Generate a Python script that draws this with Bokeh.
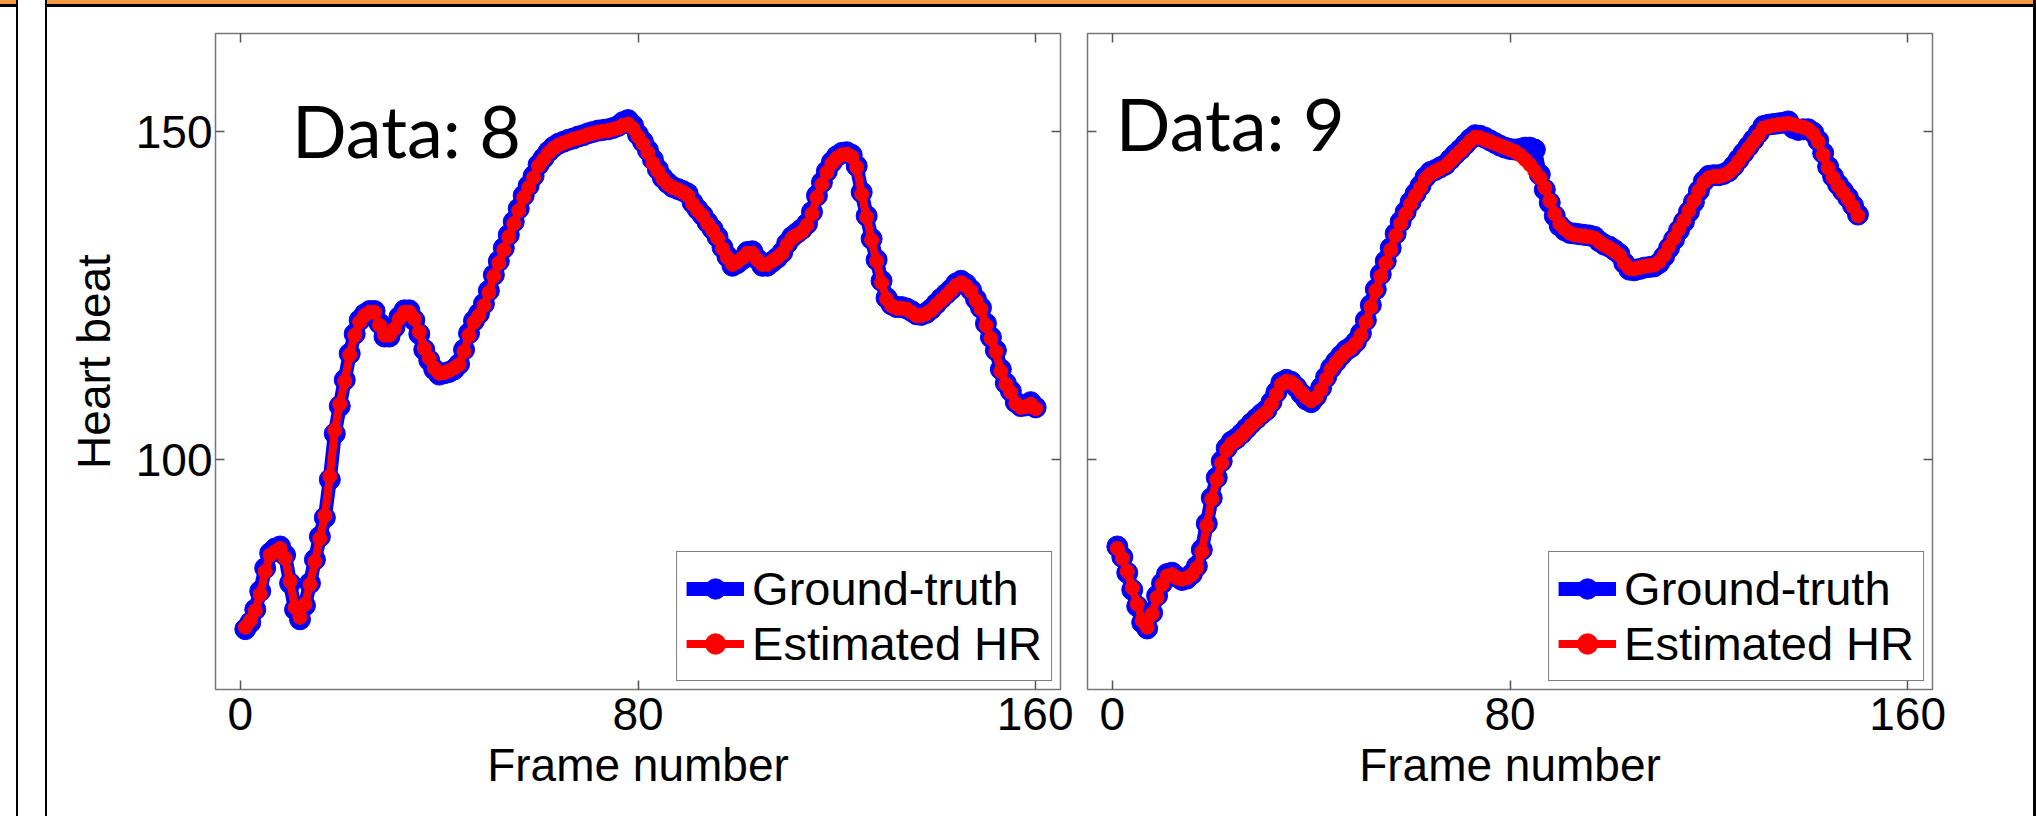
from bokeh.plotting import figure
from bokeh.models import Range1d, LinearAxis, FixedTicker, Label, Div, ColumnDataSource
from bokeh.layouts import row, column
from bokeh.embed import file_html
from bokeh.resources import INLINE

# ---------------- data ----------------
frames_8 = list(range(1, 161))
est_8 = [74.5, 75.5, 77, 79.5, 83, 85.5, 86, 86.5, 85, 81.5,
         77.5, 76, 78, 81, 84.5, 88, 91.5, 97.5, 104.5, 108.5,
         112, 116, 119, 121, 122, 122.5, 122.5, 120.5, 119, 119,
         120, 121.5, 122.5, 122.5, 121.5, 119.5, 117, 115.5, 114, 113.2,
         113.3, 113.6, 114, 114.5, 116.5, 119, 121, 122, 123.5, 125.5,
         128, 130, 132, 134, 136, 138, 140, 141.5, 143, 144.8,
         145.8, 146.8, 147.5, 148, 148.3, 148.6, 148.9, 149.1, 149.3, 149.6,
         149.8, 150, 150.1, 150.2, 150.4, 150.6, 151, 151.2, 150.5, 149.3,
         148.2, 146.8, 145.2, 144, 142.8, 142, 141.5, 141.2, 140.8, 140.3,
         139, 138, 137.2, 136, 135, 133.8, 132.2, 130.8, 129.8, 130.2,
         130.8, 131.5, 131.5, 130.5, 129.8, 129.8, 130.3, 130.8, 131.5, 132.8,
         133.8, 134.3, 134.8, 135.8, 137.5, 140, 142, 143.8, 145.2, 146,
         146.5, 146.6, 146.2, 144.6, 140.5, 137, 133.5, 130.3, 127, 124.5,
         123.5, 123.1, 123.1, 123, 122.5, 122, 122, 122.3, 122.8, 123.6,
         124.3, 125, 125.8, 126.6, 127, 126.5, 125.7, 124.3, 123, 120.5,
         118.5, 116.5, 113.5, 111.5, 110.3, 108.6, 108, 108.1, 108.5, 107.8]
gt_8 = [74.2, 75.2, 77.2, 80, 83.5, 85.8, 86.5, 86.8, 85.5, 81.2,
        77.2, 75.7, 77.8, 81.2, 84.8, 88.3, 91.2, 97, 104, 108.2,
        112.2, 116.2, 119.2, 121.3, 122.2, 122.7, 122.7, 120.8, 118.8, 118.8,
        120.2, 121.8, 122.8, 122.8, 121.3, 119.2, 116.8, 115.2, 113.8, 113,
        113.2, 113.4, 113.8, 114.6, 116.8, 119.3, 121.2, 122.3, 123.8, 125.8,
        128.2, 130.3, 132.3, 134.3, 136.3, 138.3, 140.3, 141.8, 143.3, 145,
        146, 147, 147.7, 148.2, 148.5, 148.8, 149, 149.3, 149.5, 149.8,
        150, 150.2, 150.3, 150.4, 150.6, 150.9, 151.5, 151.8, 151, 149.6,
        148.5, 147.2, 145.8, 144.3, 143, 142.2, 141.6, 141.3, 141, 140.6,
        139.2, 138.2, 137.3, 136.2, 135.2, 134, 132.4, 131, 129.6, 130,
        130.6, 131.7, 131.8, 130.6, 129.6, 129.6, 130.2, 130.8, 131.6, 133,
        134, 134.6, 135.2, 136, 137.8, 140.3, 142.3, 144, 145.4, 146.3,
        146.8, 146.9, 146.5, 144.8, 140.8, 137.2, 133.7, 130.5, 127.3, 124.7,
        123.7, 123.3, 123.3, 123.1, 122.7, 122.2, 122.1, 122.4, 123, 123.8,
        124.6, 125.3, 126, 126.9, 127.3, 126.8, 125.9, 124.5, 123.2, 120.8,
        118.7, 116.7, 113.8, 111.7, 110.5, 108.8, 108.2, 108.3, 108.8, 108]

frames_9 = list(range(1, 151))
est_9 = [86.5, 85, 83, 80.5, 78, 75.5, 74.5, 76.5, 79, 81,
         82.3, 82.5, 82, 81.8, 82, 82.5, 83.5, 86, 90, 94,
         97, 99.5, 101.5, 102.5, 103, 103.7, 104.5, 105.3, 106, 106.7,
         107.3, 108.5, 110, 111.5, 112, 111.8, 111.2, 110.3, 109.5, 109,
         109.5, 110.7, 112.3, 113.8, 114.8, 115.7, 116.5, 117, 117.8, 119,
         121, 123.3, 125.8, 128, 130, 132, 134.2, 136, 137.5, 139,
         140.3, 141.5, 142.8, 143.6, 144, 144.4, 144.8, 145.5, 146.3, 147,
         147.8, 148.6, 149.2, 149.1, 148.8, 148.5, 148.2, 147.9, 147.6, 147.3,
         147, 146.5, 145.8, 145, 144, 143, 141.5, 139.5, 137.5, 136,
         135.2, 134.6, 134.3, 134.2, 134.1, 134, 133.8, 133.2, 132.7, 132.3,
         131.8, 131.2, 130, 129.2, 129.1, 129.3, 129.5, 129.6, 129.7, 130.2,
         131.2, 132.5, 133.8, 135.2, 136.5, 138, 139.5, 141, 142.3, 143,
         143.2, 143.2, 143.4, 143.8, 144.5, 145.5, 146.5, 147.5, 148.5, 149.5,
         150.6, 150.8, 151, 151.1, 151.2, 151.3, 151.1, 150.9, 150.7, 150.4,
         149.7, 148.5, 146.5, 144.5, 143, 141.8, 140.8, 139.8, 138.6, 137.2]
gt_9 = [86.8, 85.2, 82.8, 80.2, 77.7, 75.2, 74.3, 76.7, 79.3, 81.2,
        82.6, 82.8, 82.2, 81.7, 81.9, 82.6, 83.8, 86.3, 90.3, 94.2,
        97.3, 99.8, 101.8, 102.8, 103.3, 104, 104.8, 105.6, 106.3, 107,
        107.6, 108.8, 110.3, 111.8, 112.2, 111.9, 111.1, 110.1, 109.2, 108.8,
        109.7, 111, 112.6, 114, 115, 115.9, 116.7, 117.2, 118, 119.3,
        121.3, 123.6, 126, 128.3, 130.3, 132.3, 134.5, 136.3, 137.8, 139.3,
        140.6, 141.8, 143.1, 143.9, 144.2, 144.6, 145, 145.8, 146.6, 147.3,
        148.1, 148.9, 149.5, 149.4, 149.1, 148.7, 148.3, 147.9, 147.6, 147.4,
        147.3, 147.4, 147.6, 147.6, 147.3, 143.5, 141.2, 139.2, 137.2, 135.7,
        135, 134.6, 134.5, 134.4, 134.3, 134.2, 134, 133.3, 132.8, 132.5,
        132, 131.4, 130, 129, 128.9, 129.1, 129.3, 129.4, 129.5, 130,
        131, 132.3, 133.6, 135, 136.3, 137.8, 139.3, 141, 142.5, 143.3,
        143.4, 143.4, 143.6, 144, 144.8, 145.8, 146.8, 147.8, 148.8, 149.8,
        150.9, 151.1, 151.2, 151.3, 151.4, 151.6, 150.6, 150.3, 150.4, 150.4,
        149.9, 148.7, 146.8, 144.7, 143.2, 142, 141, 140, 138.8, 137.4]

x_ticks = [0, 80, 160]
y_ticks = [100, 150]
x_label = "Frame number"
y_label = "Heart beat"
series_names = ["Ground-truth", "Estimated HR"]
tags = ["Data: 8", "Data: 9"]

TICK_FONT = "Liberation Sans"


def style_axis(ax, ticks, show_labels, standoff=6):
    ax.ticker = FixedTicker(ticks=ticks)
    ax.axis_line_color = None
    ax.major_tick_in = 9
    ax.major_tick_out = 0
    ax.major_tick_line_color = "#555555"
    ax.major_tick_line_width = 1.5
    ax.minor_tick_line_color = None
    ax.major_label_text_font = TICK_FONT
    if show_labels:
        ax.major_label_text_color = "black"
        ax.major_label_text_font_size = "46px"
        ax.major_label_standoff = standoff
    else:
        ax.major_label_text_color = None
        ax.major_label_text_font_size = "1px"
        ax.major_label_standoff = 0


def make_panel(frames, gt, est, tag, tag_x, tag_y, first):
    p = figure(frame_width=845, frame_height=656,
               x_range=Range1d(-5, 165), y_range=Range1d(65, 165),
               output_backend="svg", toolbar_location=None,
               min_border_left=168 if first else 14,
               min_border_right=13 if first else 98,
               min_border_top=26, min_border_bottom=127,
               background_fill_color="white", border_fill_color="white",
               outline_line_color="#777777", outline_line_width=1.5)
    p.grid.visible = False

    xb = p.below[0]
    yl = p.left[0]
    style_axis(xb, x_ticks, True, standoff=8)
    xb.axis_label = x_label
    xb.axis_label_text_font = TICK_FONT
    xb.axis_label_text_font_size = "46px"
    xb.axis_label_text_font_style = "normal"
    xb.axis_label_text_color = "black"
    xb.axis_label_standoff = 6

    style_axis(yl, y_ticks, first, standoff=3)
    if first:
        yl.axis_label = y_label
        yl.axis_label_text_font = TICK_FONT
        yl.axis_label_text_font_size = "46px"
        yl.axis_label_text_font_style = "normal"
        yl.axis_label_text_color = "black"
        yl.axis_label_standoff = 13

    xa = LinearAxis()
    style_axis(xa, x_ticks, False)
    p.add_layout(xa, "above")
    yr = LinearAxis()
    style_axis(yr, y_ticks, False)
    p.add_layout(yr, "right")

    src = ColumnDataSource(dict(f=frames, gt=gt, est=est))
    p.line("f", "gt", source=src, line_color="#0000FF", line_width=14,
           legend_label=series_names[0])
    p.scatter("f", "gt", source=src, size=21, color="#0000FF",
              legend_label=series_names[0])
    p.line("f", "est", source=src, line_color="#FF0000", line_width=8,
           legend_label=series_names[1])
    p.scatter("f", "est", source=src, size=14, color="#FF0000",
              legend_label=series_names[1])

    leg = p.legend[0]
    leg.location = "bottom_right"
    leg.margin = 8
    leg.padding = 9
    leg.spacing = 0
    leg.label_text_font = TICK_FONT
    leg.label_text_font_size = "47px"
    leg.label_text_color = "black"
    leg.glyph_width = 58
    leg.glyph_height = 51
    leg.label_height = 51
    leg.label_standoff = 8
    leg.border_line_color = "black"
    leg.border_line_width = 1
    leg.background_fill_color = "white"
    leg.background_fill_alpha = 1.0

    p.add_layout(Label(x=tag_x, y=tag_y, text=tag, text_font="Lato",
                       text_font_size="72px", text_color="black",
                       text_baseline="alphabetic", text_align="left"))
    return p


p1 = make_panel(frames_8, gt_8, est_8, tags[0], 10.4, 150.3, True)
p2 = make_panel(frames_9, gt_9, est_9, tags[1], 0.7, 151.3, False)

ORANGE = "#F79646"
top = Div(text="", width=2036, height=7, styles={
    "margin": "0", "padding": "0",
    "background-image": (
        "linear-gradient(to right, transparent 0px, transparent 16px, black 16px, black 18px, "
        "white 18px, white 45px, black 45px, black 47px, transparent 47px, transparent 2033px, "
        "black 2033px, black 2036px), "
        f"linear-gradient(to bottom, {ORANGE} 0px, {ORANGE} 4px, black 4px, black 7px)")
})
left = Div(text="", width=47, height=809, styles={
    "margin": "0", "padding": "0",
    "background-image": ("linear-gradient(to right, white 0px, white 16px, black 16px, black 18px, "
                         "white 18px, white 45px, black 45px, black 47px)")
})
right = Div(text="", width=6, height=809, styles={
    "margin": "0", "padding": "0",
    "background-image": "linear-gradient(to right, white 0px, white 3px, black 3px, black 6px)"
})

layout = column(top, row(left, p1, p2, right, spacing=0), spacing=0)

open("out.html", "w").write(file_html(layout, INLINE))
